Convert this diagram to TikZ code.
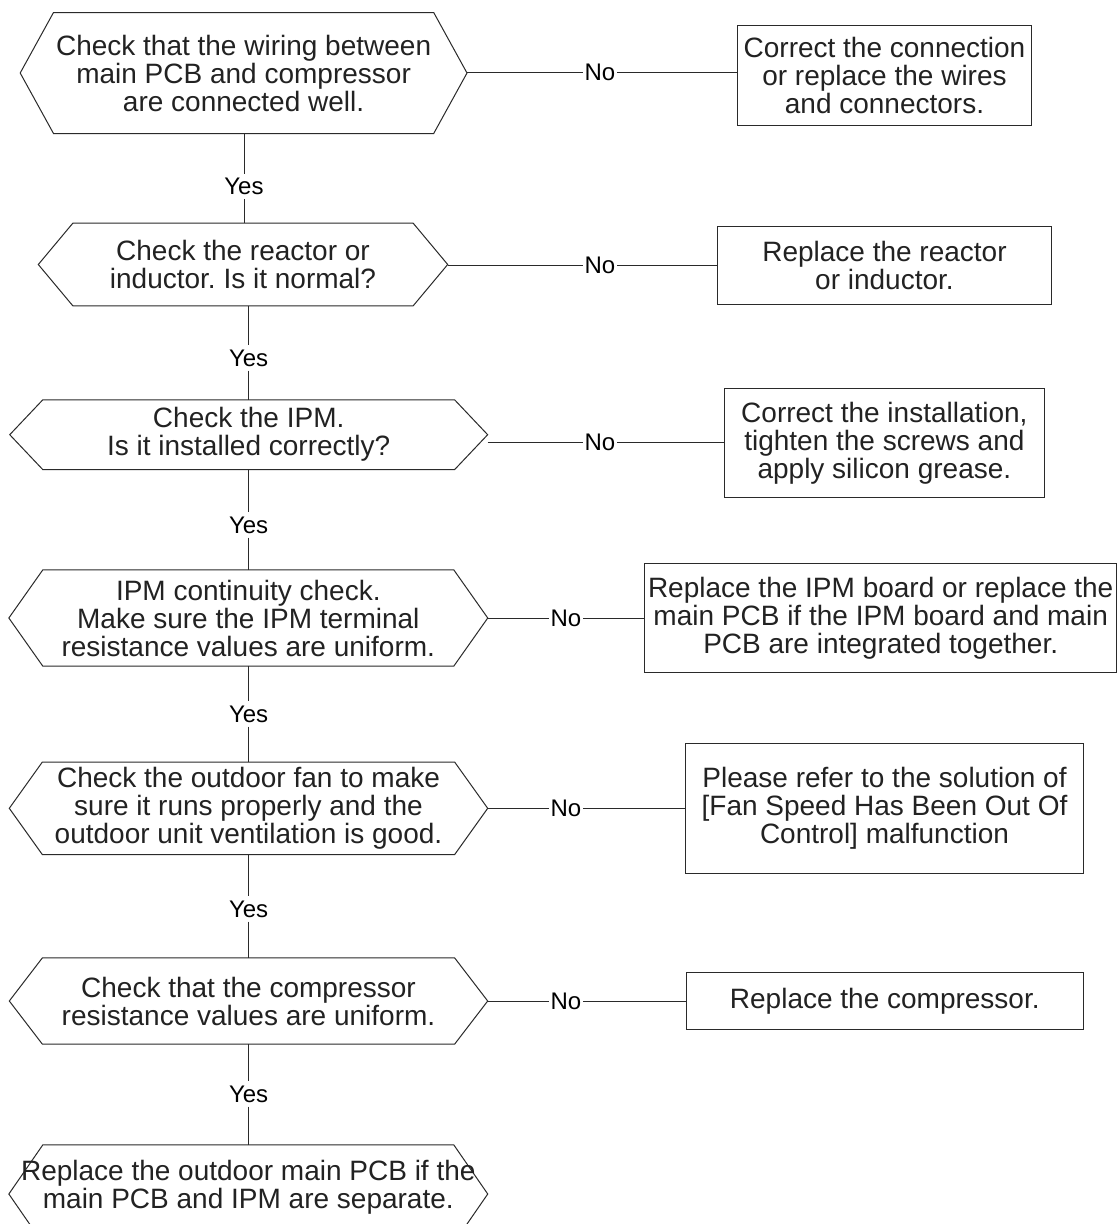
\documentclass[tikz,border=0pt]{standalone}
\usepackage{fontspec}
\setmainfont{Liberation Sans}
\frenchspacing
\definecolor{textcol}{HTML}{222222}
\definecolor{linecol}{HTML}{2A2A2A}
\newcommand\hexoutline[2]{\draw[line] ([xshift=#2]#1.north west) -- ([xshift=-#2]#1.north east) -- (#1.east) -- ([xshift=-#2]#1.south east) -- ([xshift=#2]#1.south west) -- (#1.west) -- cycle;}
\begin{document}
\begin{tikzpicture}[x=1pt,y=-1pt,
  line/.style={draw=linecol,line width=1pt},
  txt/.style={text=textcol,font=\fontsize{28}{28}\selectfont,align=center,inner sep=0pt},
  hexnode/.style={txt},
  boxnode/.style={txt,draw=linecol,line width=1pt},
  nolbl/.style={font=\fontsize{24}{24}\selectfont,text=black,inner xsep=1.5pt,inner ysep=2pt},
  yeslbl/.style={font=\fontsize{24}{24}\selectfont,text=black,inner xsep=2pt,inner ysep=4pt}]
\useasboundingbox (0,0) rectangle (1119,1224);
\clip (0,0) rectangle (1119,1224);
\fill[white] (0,0) rectangle (1119,1224);

% decision hexagons
\node[hexnode,minimum width=446.4pt,minimum height=120.6pt] (h1) at (243.6,73)
  {Check that the wiring between\\main PCB and compressor\\are connected well.};
\hexoutline{h1}{33.3pt}
\node[hexnode,minimum width=409pt,minimum height=82.4pt] (h2) at (243,264.5)
  {Check the reactor or\\inductor. Is it normal?};
\hexoutline{h2}{34.6pt}
\node[hexnode,minimum width=477.5pt,minimum height=69.3pt] (h3) at (248.7,434.7)
  {Check the IPM.\\Is it installed correctly?};
\hexoutline{h3}{33pt}
\node[hexnode,minimum width=478.5pt,minimum height=96pt] (h4) at (248.3,618)
  {IPM continuity check.\\Make sure the IPM terminal\\resistance values are uniform.};
\hexoutline{h4}{34pt}
\node[hexnode,minimum width=478pt,minimum height=92pt] (h5) at (248.5,808.3)
  {Check the outdoor fan to make\\sure it runs properly and the\\outdoor unit ventilation is good.};
\hexoutline{h5}{33pt}
\node[hexnode,minimum width=478pt,minimum height=85.7pt] (h6) at (248.5,1001)
  {Check that the compressor\\resistance values are uniform.};
\hexoutline{h6}{33pt}
\node[hexnode,minimum width=478.5pt,minimum height=98pt] (h7) at (248.3,1194) {};
\hexoutline{h7}{34pt}
\node[txt] (t7) at (248.3,1187)
  {Replace the outdoor main PCB if the\\main PCB and IPM are separate.};

% action boxes
\node[boxnode,minimum width=294pt,minimum height=100pt] (b1) at (884.5,75)
  {Correct the connection\\or replace the wires\\and connectors.};
\node[boxnode,minimum width=334pt,minimum height=78pt] (b2) at (884.5,265)
  {Replace the reactor\\or inductor.};
\node[boxnode,minimum width=320pt,minimum height=109pt] (b3) at (884.4,442.8)
  {Correct the installation,\\tighten the screws and\\apply silicon grease.};
\node[boxnode,minimum width=472.5pt,minimum height=108.6pt] (b4) at (880.7,618)
  {Replace the IPM board or replace the\\main PCB if the IPM board and main\\PCB are integrated together.};
\node[boxnode,minimum width=397.5pt,minimum height=129.6pt] (b5) at (884.5,808.5)
  {Please refer to the solution of\\{[}Fan Speed Has Been Out Of\\Control{]} malfunction};
\node[boxnode,minimum width=397.6pt,minimum height=56.3pt] (b6) at (884.8,1001)
  {Replace the compressor.};

% No labels
\node[nolbl] (no1) at (600,72.7) {No};
\node[nolbl] (no2) at (600,265) {No};
\node[nolbl] (no3) at (600,442.5) {No};
\node[nolbl] (no4) at (566,618.3) {No};
\node[nolbl] (no5) at (566,808.3) {No};
\node[nolbl] (no6) at (566,1001) {No};

% Yes labels
\node[yeslbl] (yes1) at (244,186.7) {Yes};
\node[yeslbl] (yes2) at (248.6,358) {Yes};
\node[yeslbl] (yes3) at (248.6,525) {Yes};
\node[yeslbl] (yes4) at (248.6,714) {Yes};
\node[yeslbl] (yes5) at (248.6,909) {Yes};
\node[yeslbl] (yes6) at (248.6,1094) {Yes};

% No connectors
\foreach \i in {1,...,6}{
  \draw[line] (no\i.west -| h\i.east) -- (no\i.west);
  \draw[line] (no\i.east) -- (no\i.east -| b\i.west);
}

% Yes connectors
\foreach \i/\j in {1/2,2/3,3/4,4/5,5/6,6/7}{
  \draw[line] (yes\i |- h\i.south) -- (yes\i.north);
  \draw[line] (yes\i.south) -- (yes\i |- h\j.north);
}
\end{tikzpicture}
\end{document}
